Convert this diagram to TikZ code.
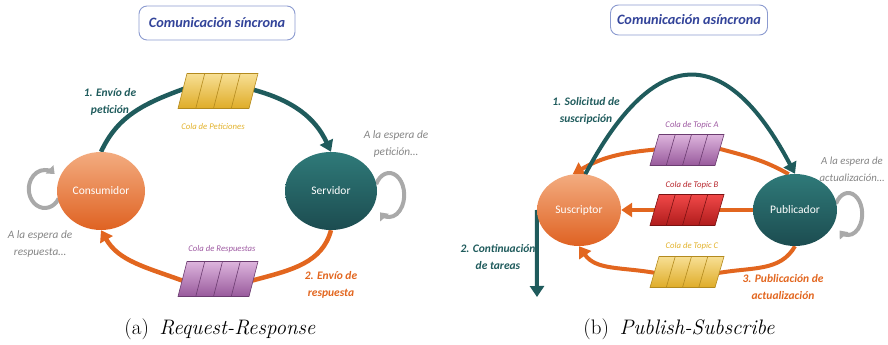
\documentclass[tikz,border=0pt]{standalone}
\usepackage{fontspec}
\newfontfamily\calfont{Carlito}
\usetikzlibrary{arrows.meta,shapes.geometric,calc,backgrounds}

\definecolor{verdeosc}{HTML}{1F5B5C}
\definecolor{naranja}{HTML}{E2661F}
\definecolor{grisbucle}{HTML}{A9A9A9}
\definecolor{gristexto}{HTML}{858585}
\definecolor{azultit}{HTML}{33449A}
\definecolor{bordetit}{HTML}{8C9BD0}
\definecolor{amarilloA}{HTML}{F7DF94}
\definecolor{amarilloB}{HTML}{DFAC28}
\definecolor{amarilloL}{HTML}{B38A1E}
\definecolor{amarilloT}{HTML}{E2B22C}
\definecolor{moradoA}{HTML}{DDB4DD}
\definecolor{moradoB}{HTML}{985A9C}
\definecolor{moradoL}{HTML}{6B3C70}
\definecolor{moradoT}{HTML}{9E5AA2}
\definecolor{rojoA}{HTML}{F04848}
\definecolor{rojoB}{HTML}{B01C1C}
\definecolor{rojoL}{HTML}{7A1212}
\definecolor{rojoT}{HTML}{B8262C}
\definecolor{consA}{HTML}{F3AC80}
\definecolor{consB}{HTML}{DF6222}
\definecolor{servA}{HTML}{2F7A79}
\definecolor{servB}{HTML}{1C4C50}

\tikzset{
  actor/.style={ellipse, inner sep=0pt, text=white, font=\calfont\fontsize{11.5}{13}\selectfont},
  consum/.style={actor, top color=consA, bottom color=consB},
  servi/.style={actor, top color=servA, bottom color=servB},
  titulo/.style={draw=bordetit, line width=0.9pt, rounded corners=8pt, fill=white,
    text=azultit, font=\calfont\bfseries\itshape\fontsize{14.3}{16}\selectfont},
  paso/.style={align=center, font=\calfont\bfseries\itshape\fontsize{11.5}{16.5}\selectfont},
  etq/.style={font=\calfont\itshape\fontsize{8.7}{10}\selectfont},
  espera/.style={align=center, text=gristexto, font=\calfont\itshape\fontsize{11.3}{17}\selectfont},
  pie/.style={font=\fontsize{21}{24}\selectfont},
  tramo/.style={line width=4.5pt},
  flecha/.style={line width=4.5pt, -{Triangle[width=14pt,length=11pt]}},
  dentro/.style={shorten <=-6pt},
  hacia/.style={shorten >=-6pt},
  bucle/.style={grisbucle, line width=4pt, -{Triangle[width=11pt,length=7pt]}},
}

% a message queue: a slanted box split into four cells
% #1 name, #2 x, #3 y, #4 width, #5 height, #6 top colour, #7 bottom colour, #8 line colour
\newcommand\cola[8]{%
  \node[minimum width=#4, minimum height=#5, inner sep=0pt, outer sep=0pt] (#1) at (#2,#3) {};
  \coordinate (#1-tl) at ($(#1.north west)+(9,0)$);
  \coordinate (#1-br) at ($(#1.south east)+(-9,0)$);
  \shade[top color=#6, bottom color=#7, draw=#8, line width=0.6pt]
    (#1-tl) -- (#1.north east) -- (#1-br) -- (#1.south west) -- cycle;
  \foreach \f in {0.25,0.5,0.75}{%
    \draw[#8, line width=0.6pt] ($(#1-tl)!\f!(#1.north east)$) -- ($(#1.south west)!\f!(#1-br)$);}}

\begin{document}
\begin{tikzpicture}[x=1pt,y=1pt]
\useasboundingbox (0,0) rectangle (888,345);

% ---------------- (a) Request-Response ----------------
\node[titulo, minimum width=156pt, minimum height=34pt] (t1) at (217,322) {Comunicación síncrona};
\node[consum, minimum width=88pt, minimum height=78pt] (cons) at (101,154) {Consumidor};
\node[servi, minimum width=92pt, minimum height=78pt] (serv) at (331,154) {Servidor};
\cola{qpet}{218}{254}{80pt}{35pt}{amarilloA}{amarilloB}{amarilloL}
\cola{qres}{218}{66}{80pt}{35pt}{moradoA}{moradoB}{moradoL}

\node[paso, text=verdeosc] (l1) at (110,243) {1. Envío de\\petición};
\node[etq, text=amarilloT] (lpet) at (213,218) {Cola de Peticiones};
\node[etq, text=moradoT] (lres) at (222,96) {Cola de Respuestas};
\node[paso, text=naranja] (l2) at (331,60) {2. Envío de\\respuesta};
\node[espera] (w1) at (396,201) {A la espera de\\petición…};
\node[espera] (w2) at (40,101) {A la espera de\\respuesta…};
\node[pie] (ca) at (220,16) {(a)\hspace{0.5em}\textit{Request-Response}};

\begin{scope}[on background layer]
  \draw[tramo, verdeosc, hacia] (cons.north) to[out=65, in=200] (qpet.west);
  \draw[flecha, verdeosc, dentro] (qpet.east) to[out=-15, in=115] (serv.north);
  \draw[tramo, naranja, hacia] (serv.south) to[out=-105, in=15] (qres.east);
  \draw[flecha, naranja, dentro] (qres.west) to[out=160, in=-60] (cons.south);
  % waiting loops, partly hidden behind the nodes
  \draw[bucle] ($(cons.west)+(-12,2)$) ++(-30:16 and 19)
    arc[start angle=-30, end angle=-308, x radius=16, y radius=19];
  \draw[bucle] ($(serv.east)+(12,-4)$) ++(150:15 and 22)
    arc[start angle=150, end angle=-128, x radius=15, y radius=22];
\end{scope}

% ---------------- (b) Publish-Subscribe ----------------
\node[titulo, minimum width=157pt, minimum height=30pt] (t2) at (689,325) {Comunicación asíncrona};
\node[consum, minimum width=84pt, minimum height=72pt] (sus) at (579,135) {Suscriptor};
\node[servi, minimum width=84pt, minimum height=72pt] (pub) at (795,135) {Publicador};
\cola{qa}{687}{195}{74pt}{31pt}{moradoA}{moradoB}{moradoL}
\cola{qb}{687}{135}{74pt}{31pt}{rojoA}{rojoB}{rojoL}
\cola{qc}{687}{73}{74pt}{31pt}{amarilloA}{amarilloB}{amarilloL}
\coordinate (fin) at (537,48);

\node[paso, text=verdeosc] (s1) at (586,234) {1. Solicitud de\\suscripción};
\node[etq, text=moradoT] (la) at (692,220) {Cola de Topic A};
\node[etq, text=rojoT] (lb) at (692,160) {Cola de Topic B};
\node[etq, text=amarilloT] (lc) at (692,99) {Cola de Topic C};
\node[paso, text=naranja] (s3) at (783,58) {3. Publicación de\\actualización};
\node[paso, text=verdeosc] (s2) at (498,88) {2. Continuación\\de tareas};
\node[espera, anchor=east, font=\calfont\itshape\fontsize{10.8}{17}\selectfont] (w3) at (888,176) {A la espera de\\actualización…};
\node[pie] (cb) at (679,16) {(b)\hspace{0.5em}\textit{Publish-Subscribe}};

\begin{scope}[on background layer, tramo/.append style={line width=4pt}, flecha/.append style={line width=4pt}]
  \draw[tramo, naranja, hacia] (pub.100) to[out=150, in=-15] (qa.east);
  \draw[flecha, naranja, dentro] (qa.west) to[out=185, in=30] (sus.100);
  \draw[tramo, naranja, hacia] (pub.west) -- (qb.east);
  \draw[flecha, naranja, dentro] (qb.west) -- (sus.east);
  \draw[tramo, naranja, hacia] (pub.south) to[out=240, in=10] (qc.east);
  \draw[flecha, naranja, dentro] (qc.west) to[out=170, in=-55] (sus.south);
  \draw[flecha, verdeosc] (sus.80) .. controls (655,302) and (726,302) .. (pub.north);
  \draw[flecha, verdeosc] (sus.west) -- (fin);
  \draw[bucle] ($(pub.east)+(11,-4)$) ++(150:14 and 21)
    arc[start angle=150, end angle=-128, x radius=14, y radius=21];
\end{scope}

\end{tikzpicture}
\end{document}
